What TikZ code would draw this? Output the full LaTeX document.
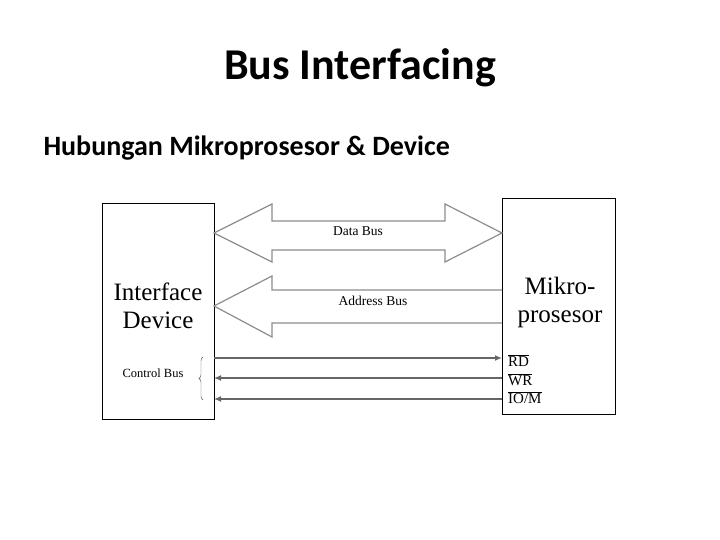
\documentclass[tikz,border=0pt]{standalone}
\usepackage{fontspec}
\setmainfont{Carlito}
\newfontfamily\serif{Liberation Serif}
\usetikzlibrary{arrows.meta,decorations.pathreplacing}
\begin{document}
\begin{tikzpicture}[x=1pt,y=-1pt,
  box/.style={draw=black,line width=1pt},
  busline/.style={draw=black!45,line width=1.2pt},
  ctl/.style={draw=black!60,line width=1.3pt,-{Latex[length=7pt,width=6pt]}},
  lbl/.style={font=\serif\fontsize{13.5}{15}\selectfont},
  sig/.style={anchor=west,inner sep=1pt,font=\serif\fontsize{15}{16}\selectfont},
  big/.style={font=\serif\fontsize{25}{28}\selectfont,align=center}]
\useasboundingbox (0,0) rectangle (720,540);
\node[font=\bfseries\fontsize{44}{50}\selectfont] (title) at (360,68) {Bus Interfacing};
\node[anchor=west,font=\bfseries\fontsize{28}{32}\selectfont] (sub) at (40,148) {Hubungan Mikroprosesor \& Device};
\draw[box] (102,204) rectangle (214,419);
\draw[box] (502,199) rectangle (615,414);
\node[big] (idtext) at (158,306) {Interface\\Device};
\node[big] (mptext) at (560,302) {Mikro-\\prosesor};
% data bus
\draw[busline] (272,221) -- (445,221) -- (445,204) -- (502,233) -- (445,262) -- (445,250) -- (272,250) -- (272,262) -- (214,233) -- (272,204) -- cycle;
\node[lbl] (db) at (358,231) {Data Bus};
% address bus
\draw[busline] (502,290) -- (272,290) -- (272,276) -- (214,306) -- (272,337) -- (272,323) -- (502,323);
\node[lbl] (ab) at (373,301) {Address Bus};
% control
\coordinate (l1) at (214,358); \coordinate (r1) at (502,358);
\coordinate (l2) at (214,378); \coordinate (r2) at (502,378);
\coordinate (l3) at (214,399); \coordinate (r3) at (502,399);
\draw[ctl] (l1) -- (r1);
\draw[ctl] (r2) -- (l2);
\draw[ctl] (r3) -- (l3);
\draw[black!70,decorate,decoration={brace,amplitude=4pt}] (203,400) -- (203,357);
\node[lbl,font=\serif\fontsize{12.5}{14}\selectfont] (cb) at (153,373) {Control Bus};
\node[sig] (rd) at (507,361) {$\overline{\mbox{RD}}$};
\node[sig] (wr) at (507,380) {$\overline{\mbox{WR}}$};
\node[sig] (io) at (507,398) {$\overline{\mbox{IO/M}}$};
\end{tikzpicture}
\end{document}
